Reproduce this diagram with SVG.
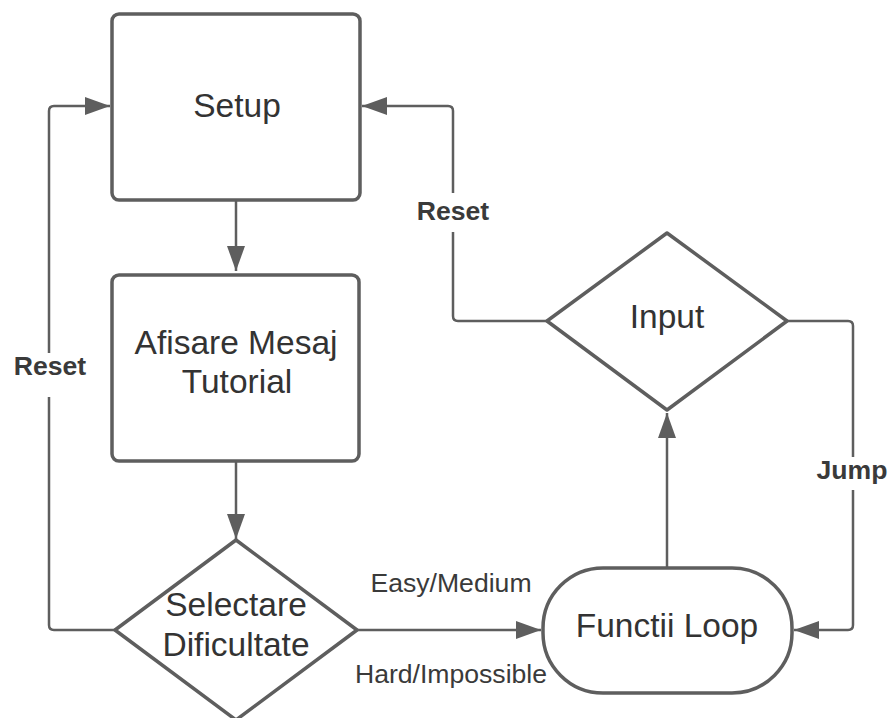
<svg xmlns="http://www.w3.org/2000/svg" width="888" height="718" viewBox="0 0 888 718">
  <defs>
    <marker id="arrow" markerUnits="userSpaceOnUse" markerWidth="26" markerHeight="20" refX="25" refY="9" orient="auto">
      <path d="M0,0 L25,9 L0,18 Z" fill="#5e5e5e"/>
    </marker>
    <style>
      .shape { fill: #ffffff; stroke: #5e5e5e; stroke-width: 3.5; stroke-linejoin: round; }
      .edge { fill: none; stroke: #5e5e5e; stroke-width: 2.5; }
      .label { font-family: "Liberation Sans", Arial, sans-serif; font-size: 33.5px; fill: #333333; text-anchor: middle; }
      .elabel { font-family: "Liberation Sans", Arial, sans-serif; font-size: 26.6px; fill: #3a3a3a; text-anchor: middle; }
      .bold { font-weight: bold; }
    </style>
  </defs>
  <rect width="888" height="718" fill="#ffffff"/>

  <!-- connectors -->
  <g id="connectors">
    <path class="edge" d="M236,200 V271" marker-end="url(#arrow)"/>
    <path class="edge" d="M236,461 V539" marker-end="url(#arrow)"/>
    <path class="edge" d="M357,630 H541" marker-end="url(#arrow)"/>
    <path class="edge" d="M667,568 V413" marker-end="url(#arrow)"/>
    <!-- Jump: Input right side down to Functii Loop -->
    <path class="edge" d="M787,321 H848 Q853,321 853,326 V457"/>
    <path class="edge" d="M853,490 V625 Q853,630 848,630 H794" marker-end="url(#arrow)"/>
    <!-- Reset: Input left side up to Setup -->
    <path class="edge" d="M547,321 H458 Q453,321 453,316 V232"/>
    <path class="edge" d="M453,193 V111 Q453,106 448,106 H362" marker-end="url(#arrow)"/>
    <!-- Reset: Selectare left side up to Setup -->
    <path class="edge" d="M115,630 H54 Q49,630 49,625 V397"/>
    <path class="edge" d="M49,353 V111 Q49,106 54,106 H110" marker-end="url(#arrow)"/>

    <text class="elabel" x="451" y="592">Easy/Medium</text>
    <text class="elabel" x="451" y="683">Hard/Impossible</text>
    <text class="elabel bold" x="852" y="479">Jump</text>
    <text class="elabel bold" x="453" y="220">Reset</text>
    <text class="elabel bold" x="50" y="375">Reset</text>
  </g>

  <g id="setup">
    <rect class="shape" x="112" y="14" width="248" height="186" rx="7"/>
    <text class="label" x="237" y="117">Setup</text>
  </g>

  <g id="tutorial">
    <rect class="shape" x="112" y="275" width="247" height="186" rx="7"/>
    <text class="label" x="236" y="354">Afisare Mesaj</text>
    <text class="label" x="237" y="393">Tutorial</text>
  </g>

  <g id="difficulty">
    <polygon class="shape" points="236,540 357,630 236,720 115,630"/>
    <text class="label" x="236" y="616">Selectare</text>
    <text class="label" x="236" y="656">Dificultate</text>
  </g>

  <g id="input">
    <polygon class="shape" points="667,233 787,321 667,410 547,321"/>
    <text class="label" x="667" y="328">Input</text>
  </g>

  <g id="loop">
    <rect class="shape" x="543" y="568" width="249" height="125" rx="60" ry="60"/>
    <text class="label" x="667" y="637">Functii Loop</text>
  </g>
</svg>
